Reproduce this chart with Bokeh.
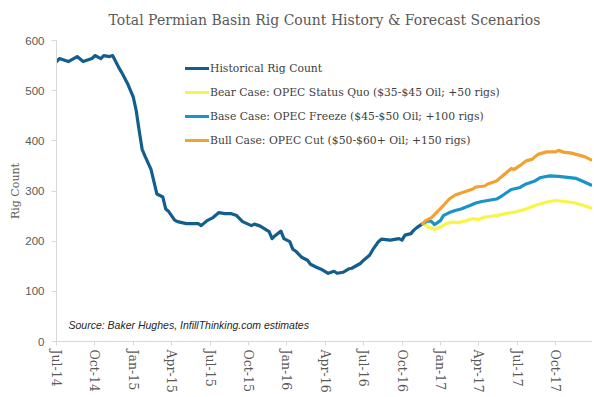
from bokeh.plotting import figure
from bokeh.models import Range1d, FixedTicker, Legend, LegendItem, Label
from bokeh.embed import file_html
from bokeh.resources import INLINE

# ---- data (weeks since first week of Jul-2014, rig counts) ----
tick_labels = ["Jul-14", "Oct-14", "Jan-15", "Apr-15", "Jul-15", "Oct-15", "Jan-16",
               "Apr-16", "Jul-16", "Oct-16", "Jan-17", "Apr-17", "Jul-17", "Oct-17"]
weeks_per_label = 13

hist_week = [0, 1, 4, 7, 9, 12, 13, 15, 16, 18, 19, 21, 22, 24, 26, 27, 28, 29, 30, 32,
             34, 36, 37, 38, 40, 41, 44, 48, 49, 51, 53, 55, 57, 59, 61, 63, 66, 67, 69, 72,
             73, 74, 76, 77, 79, 80, 81, 83, 85, 86, 88, 90, 92, 94, 95, 97, 99, 100, 103, 104,
             106, 107, 109, 110, 113, 116, 117, 118, 120, 121, 122, 124]
hist_rigs = [558, 564, 558, 568, 558, 564, 570, 564, 570, 568, 570, 547, 537, 515, 487, 460, 420, 383, 369, 343,
             294, 288, 264, 259, 242, 239, 235, 235, 231, 241, 247, 257, 255, 255, 251, 239, 231, 234, 230, 219,
             205, 211, 220, 205, 199, 184, 180, 168, 162, 154, 148, 143, 136, 140, 136, 138, 145, 146, 156, 162,
             172, 182, 199, 204, 202, 205, 202, 212, 215, 222, 227, 235]

bear_week = [124, 126, 128, 130, 132, 134, 136, 139, 141, 143, 145, 149, 152, 156, 159, 162, 166, 169, 172, 175, 178, 181]
bear_rigs = [235, 228, 224, 228, 235, 238, 237, 241, 245, 243, 248, 251, 255, 259, 264, 271, 278, 281, 279, 277, 272, 266]

base_week = [124, 126, 127, 128, 130, 131, 133, 135, 137, 140, 142, 144, 146, 149, 151, 153, 154, 157, 159, 162,
             164, 167, 170, 173, 176, 178, 181]
base_rigs = [235, 241, 239, 233, 241, 251, 257, 261, 264, 271, 276, 279, 281, 284, 291, 299, 303, 307, 314, 320,
             327, 330, 329, 327, 325, 320, 312]

bull_week = [124, 125, 127, 129, 131, 133, 135, 137, 139, 141, 142, 145, 146, 149, 151, 153, 154, 155, 157, 159,
             161, 163, 166, 169, 170, 172, 174, 176, 179, 181]
bull_rigs = [235, 241, 247, 259, 271, 284, 292, 296, 300, 304, 308, 310, 314, 320, 330, 340, 345, 343, 351, 360,
             363, 373, 378, 378, 381, 377, 376, 373, 368, 362]

series_names = ["Historical Rig Count",
                "Bear Case: OPEC Status Quo ($35-$45 Oil; +50 rigs)",
                "Base Case: OPEC Freeze ($45-$50 Oil; +100 rigs)",
                "Bull Case: OPEC Cut ($50-$60+ Oil; +150 rigs)"]
series_colors = ["#135E8D", "#F8F54A", "#1A93C9", "#F1A232"]

y_ticks = [0, 100, 200, 300, 400, 500, 600]
title_text = "Total Permian Basin Rig Count History & Forecast Scenarios"

SERIF = "DejaVu Serif"
SANS = "Liberation Sans"
GREY = "#595959"
AXIS_GREY = "#D9D9D9"

p = figure(width=592, height=395, output_backend="svg", toolbar_location=None,
           x_range=Range1d(0, 181.5), y_range=Range1d(0, 600))
p.min_border_left = 56
p.min_border_right = 0
p.min_border_top = 40
p.min_border_bottom = 51
p.outline_line_color = None
p.xgrid.visible = False
p.ygrid.visible = False
p.background_fill_color = "white"
p.border_fill_color = "white"

p.title.text = title_text
p.title.align = "center"
p.title.vertical_align = "top"
p.title.text_font = SERIF
p.title.text_font_size = "14px"
p.title.text_font_style = "normal"
p.title.text_color = GREY
p.title.text_line_height = 1.0
p.title.standoff = 22

renderers = []
for wk, val, col in zip([hist_week, bear_week, base_week, bull_week],
                        [hist_rigs, bear_rigs, base_rigs, bull_rigs], series_colors):
    r = p.line(wk, val, line_color=col, line_width=3.2, line_join="round", line_cap="round")
    renderers.append(r)

# x axis
xa = p.xaxis[0]
xa.ticker = FixedTicker(ticks=[i * weeks_per_label for i in range(len(tick_labels))])
xa.major_label_overrides = {i * weeks_per_label: lab for i, lab in enumerate(tick_labels)}
xa.major_label_orientation = "vertical"
xa.major_label_text_font = SERIF
xa.major_label_text_font_size = "12.5px"
xa.major_label_text_color = GREY
xa.axis_line_color = AXIS_GREY
xa.major_tick_line_color = AXIS_GREY
xa.major_tick_in = 0
xa.major_tick_out = 4
xa.minor_tick_line_color = None
xa.major_label_standoff = 4

# y axis
ya = p.yaxis[0]
ya.ticker = FixedTicker(ticks=y_ticks)
ya.major_label_text_font = SANS
ya.major_label_text_font_size = "11.5px"
ya.major_label_text_color = GREY
ya.axis_line_color = AXIS_GREY
ya.major_tick_line_color = AXIS_GREY
ya.major_tick_in = 0
ya.major_tick_out = 5
ya.minor_tick_line_color = None
ya.major_label_standoff = 7
ya.axis_label = "Rig Count"
ya.axis_label_text_font = SERIF
ya.axis_label_text_font_size = "11px"
ya.axis_label_text_font_style = "normal"
ya.axis_label_text_color = GREY
ya.axis_label_standoff = 0

legend = Legend(items=[LegendItem(label=n, renderers=[r]) for n, r in zip(series_names, renderers)],
                location=(129, 191))
legend.padding = 0
legend.margin = 0
legend.spacing = 4
legend.glyph_width = 24
legend.glyph_height = 20
legend.label_height = 20
legend.label_standoff = 1
legend.label_text_font = SERIF
legend.label_text_font_size = "10.8px"
legend.label_text_color = "#404040"
legend.border_line_color = None
legend.background_fill_alpha = 0
p.add_layout(legend, "center")

src = Label(x=12, y=17, x_units="screen", y_units="screen",
            text="Source: Baker Hughes, InfillThinking.com estimates",
            text_font=SANS, text_font_size="10.5px", text_font_style="italic",
            text_color="#262626", text_baseline="middle")
p.add_layout(src)

open("out.html", "w").write(file_html(p, INLINE))
